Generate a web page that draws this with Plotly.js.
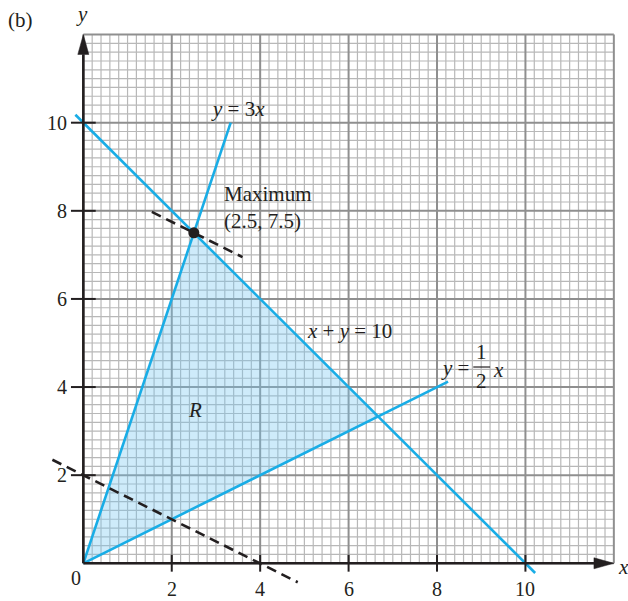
<!DOCTYPE html>
<html>
<head>
<meta charset="utf-8">
<script src="https://cdn.plot.ly/plotly-3.0.1.min.js"></script>
<style>
  html, body { margin: 0; padding: 0; background: #fff; }
  #plot { width: 628px; height: 601px; }
</style>
</head>
<body>
<div id="plot"></div>
<script>
// constraint lines
const lineY3x_x = [0, 10 / 3];
const lineY3x_y = [0, 10];
const lineSum_x = [-0.18, 10.22];
const lineSum_y = [10.18, -0.22];
const lineHalf_x = [0, 8.25];
const lineHalf_y = [0, 4.125];

// feasible region R
const regionX = [0, 2.5, 20 / 3, 0];
const regionY = [0, 7.5, 10 / 3, 0];

// objective lines (dashed)
const objLowX = [-0.7, 4.85];
const objLowY = [2.35, -0.43];
const objMaxX = [1.55, 3.6];
const objMaxY = [7.975, 6.95];

// maximum point
const maxX = [2.5];
const maxY = [7.5];

// axis ticks
const xTicks = [2, 4, 6, 8, 10];
const yTicks = [2, 4, 6, 8, 10];
const axisMax = 12;

const ink = '#231f20';
const blue = '#19ade6';
const fontFam = 'Liberation Serif, Times New Roman, serif';

// graph paper
function gridTrace(step, color, width, skip) {
  const xs = [], ys = [];
  const n = Math.round(axisMax / step);
  for (let i = 0; i <= n; i++) {
    const v = i * step;
    if (skip && skip(v)) continue;
    xs.push(v, v, null); ys.push(0, axisMax, null);
    xs.push(0, axisMax, null); ys.push(v, v, null);
  }
  return { x: xs, y: ys, mode: 'lines', line: { color: color, width: width }, hoverinfo: 'skip' };
}
const isMajor = v => Math.abs(v / 2 - Math.round(v / 2)) < 1e-6;
const minorGrid = gridTrace(0.2, '#b8b8b8', 1.2, isMajor);
const majorGrid = gridTrace(2, '#8f8f8f', 2);

// tick marks crossing the axes
const tx = [], ty = [];
xTicks.forEach(v => { tx.push(v, v, null); ty.push(-0.19, 0.19, null); });
yTicks.forEach(v => { tx.push(-0.28, 0.28, null); ty.push(v, v, null); });
const tickTrace = { x: tx, y: ty, mode: 'lines', line: { color: ink, width: 2 }, hoverinfo: 'skip' };

// axes with arrowheads
const headLen = 0.45, headHalf = 0.125;
const axesTrace = {
  x: [0, axisMax - headLen, null, 0, 0],
  y: [0, 0, null, 0, axisMax - headLen],
  mode: 'lines', line: { color: ink, width: 2.6 }, hoverinfo: 'skip'
};
const arrowX = {
  x: [axisMax, axisMax - headLen, axisMax - headLen, axisMax],
  y: [0, headHalf, -headHalf, 0],
  mode: 'lines', fill: 'toself', fillcolor: ink, line: { color: ink, width: 0.5 }, hoverinfo: 'skip'
};
const arrowY = {
  x: [0, headHalf, -headHalf, 0],
  y: [axisMax, axisMax - headLen, axisMax - headLen, axisMax],
  mode: 'lines', fill: 'toself', fillcolor: ink, line: { color: ink, width: 0.5 }, hoverinfo: 'skip'
};

const region = {
  x: regionX, y: regionY, mode: 'lines', fill: 'toself',
  fillcolor: 'rgba(120,200,240,0.36)', line: { width: 0 }, hoverinfo: 'skip'
};

const blueLine = (x, y) => ({ x: x, y: y, mode: 'lines', line: { color: blue, width: 2.6 }, hoverinfo: 'skip' });
const dashLine = (x, y) => ({ x: x, y: y, mode: 'lines', line: { color: ink, width: 2.6, dash: '10px,6px' }, hoverinfo: 'skip' });

const maxPoint = {
  x: maxX, y: maxY, mode: 'markers',
  marker: { color: ink, size: 11 }, hoverinfo: 'skip'
};

const annotations = [];
function label(text, x, y, opts, size) {
  annotations.push(Object.assign({
    text: text, x: x, y: y, xref: 'x', yref: 'y', showarrow: false,
    font: { family: fontFam, size: size || 21, color: ink }
  }, opts || {}));
}
xTicks.forEach(v => label(String(v), v, -0.58, null, 20));
yTicks.forEach(v => label(String(v), -0.32, v, { xanchor: 'right' }, 20));
label('0', -0.17, -0.33, null, 20);
label('<i>x</i>', 12.21, -0.08);
label('<i>y</i>', -0.03, 12.47);
label('(b)', -1.43, 12.33);
label('<i>y</i> = 3<i>x</i>', 3.5, 10.31);
label('Maximum<br>(2.5, 7.5)', 3.13, 8.08, { xanchor: 'left', align: 'left' });
label('<i>x</i> + <i>y</i> = 10', 6.03, 5.27);
label('<i>R</i>', 2.53, 3.48);
label('<i>y</i> =', 8.41, 4.43);
label('1', 9.01, 4.8);
label('2', 9.01, 4.14);
label('<i>x</i>', 9.4, 4.39);

const layout = {
  width: 628,
  height: 601,
  margin: { l: 0, r: 0, t: 0, b: 0 },
  paper_bgcolor: '#ffffff',
  plot_bgcolor: '#ffffff',
  showlegend: false,
  hovermode: false,
  xaxis: { range: [-1.885, 12.32], visible: false, fixedrange: true },
  yaxis: { range: [-0.856, 12.785], visible: false, fixedrange: true },
  annotations: annotations,
  shapes: [{
    type: 'line', xref: 'x', yref: 'y', x0: 8.82, x1: 9.2, y0: 4.455, y1: 4.455,
    line: { color: ink, width: 1.2 }
  }]
};

Plotly.newPlot('plot', [
  minorGrid, majorGrid, region,
  blueLine(lineY3x_x, lineY3x_y),
  blueLine(lineSum_x, lineSum_y),
  blueLine(lineHalf_x, lineHalf_y),
  dashLine(objLowX, objLowY),
  dashLine(objMaxX, objMaxY),
  axesTrace, arrowX, arrowY, tickTrace, maxPoint
], layout, { staticPlot: true });
</script>
</body>
</html>
